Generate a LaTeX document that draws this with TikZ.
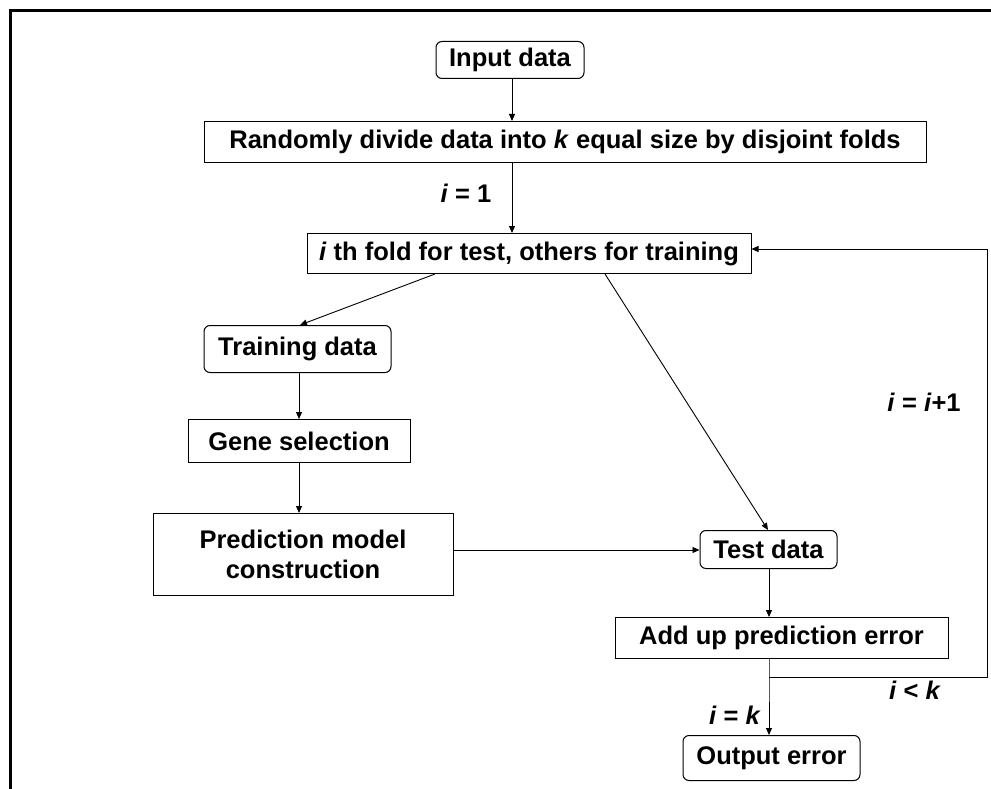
\documentclass[tikz,border=0pt]{standalone}
\usepackage{fontspec}
\setmainfont{Liberation Sans}
\usetikzlibrary{arrows.meta,positioning,calc}
\tikzset{
  base/.style={draw, line width=1pt, inner sep=0pt, align=center,
    font=\fontsize{25.5}{30}\selectfont\bfseries},
  sqbox/.style={base},
  rbox/.style={base, rounded corners=6pt},
  link/.style={line width=0.9pt, -{Triangle[length=7pt,width=6pt]}},
  lbl/.style={font=\fontsize{25.5}{30}\selectfont\bfseries, inner sep=0pt},
}
\newcommand{\iv}[1]{\textit{#1}}
\begin{document}
\begin{tikzpicture}[x=1pt,y=-1pt]
\useasboundingbox (0,0) rectangle (991,789);
% open frame along the top and left
\draw[line width=2.4pt] (10.5,789) -- (10.5,10.5) -- (991,10.5);

% boxes
\node[rbox, minimum width=148pt, minimum height=37pt] (input) at (510,60) {Input data};
\node[sqbox, minimum width=722pt, minimum height=41pt] (divide) at (565,142)
  {Randomly divide data into \iv{k} equal size by disjoint folds};
\node[sqbox, minimum width=444pt, minimum height=40pt] (fold) at (529,253.5)
  {\iv{i} th fold for test, others for training};
\node[rbox, minimum width=187pt, minimum height=47pt] (train) at (297.5,349) {Training data};
\node[sqbox, minimum width=222pt, minimum height=43pt] (gene) at (299,441) {Gene selection};
\node[sqbox, minimum width=300pt, minimum height=82pt] (pred) at (303,554.5)
  {Prediction model\\construction};
\node[rbox, minimum width=137pt, minimum height=38pt] (test) at (768.5,549.5) {Test data};
\node[sqbox, minimum width=333pt, minimum height=41pt] (add) at (781.5,638) {Add up prediction error};
\node[rbox, minimum width=177pt, minimum height=45pt] (out) at (771.5,758) {Output error};

% connectors
\draw[link] (input.south -| 512,0) -- (divide.north -| 512,0);
\draw[link] (divide.south -| 512,0) -- (fold.north -| 512,0);
\draw[link] (fold.south -| 435,0) -- (train.north -| 300,0);
\draw[link] (fold.south -| 605,0) -- (test.north -| 768,0);
\draw[link] (train.south -| 299,0) -- (gene.north -| 299,0);
\draw[link] (gene.south -| 299,0) -- (pred.north -| 299,0);
\draw[link] (pred.east |- 0,550) -- (test.west |- 0,550);
\draw[link] (test.south -| 769,0) -- (add.north -| 769,0);
\coordinate (split) at (769,677);
\coordinate (corner) at (987,677);
\coordinate (top) at (987,249);
\draw[link] (add.south -| 769,0) -- (split) -- (out.north -| 769,0);
\draw[link] (split) -- (corner) -- (top) -- (fold.east |- top);

% loop labels
\node[lbl] (l1) at (466,193) {\iv{i} = 1};
\node[lbl] (l2) at (924,402) {\iv{i} = \iv{i}+1};
\node[lbl] (l3) at (915,690) {\iv{i} < \iv{k}};
\node[lbl] (l4) at (735,715) {\iv{i} = \iv{k}};
\end{tikzpicture}
\end{document}
